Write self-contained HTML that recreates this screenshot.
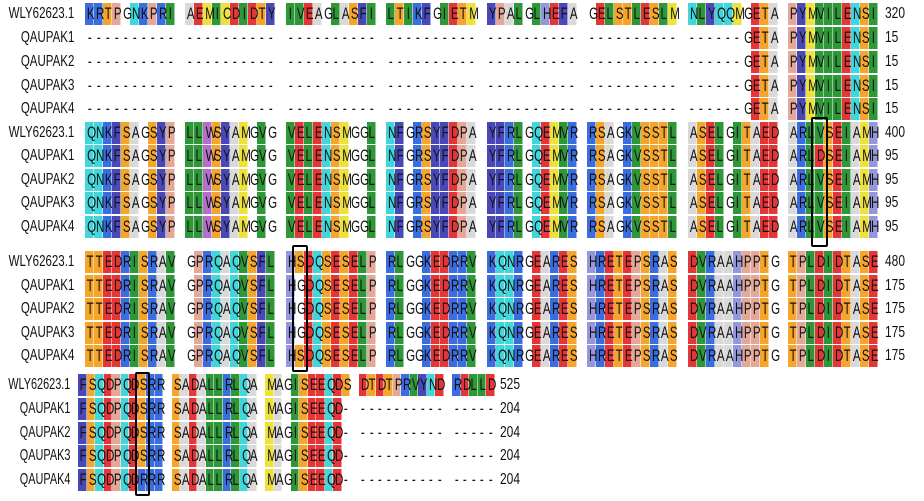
<!DOCTYPE html>
<html><head><meta charset="utf-8">
<style>
body{margin:0;width:924px;height:501px;background:#fff;position:relative;overflow:hidden;font-family:"Liberation Sans",Arial,sans-serif;}
.r{position:absolute;left:0;height:22px;width:924px;}
.r b{position:absolute;right:850px;top:0;line-height:22px;font-weight:normal;font-size:16px;white-space:nowrap;transform:scaleX(.72);transform-origin:right center;color:#111;}
.b4 b{right:854px;transform:scaleX(.68);}
.r i,.r u{position:absolute;top:0;font-style:normal;text-decoration:none;height:22px;white-space:nowrap;}
.r u{line-height:22px;font-size:16px;transform:scaleX(.75);transform-origin:left center;color:#111;}
.c{display:inline-block;height:22px;line-height:22px;text-align:center;vertical-align:top;overflow:visible;}
.c span{display:inline-block;font-size:17px;transform:scaleX(.68);color:#111;}
.box{position:absolute;border:2.5px solid #000;border-radius:2px;box-sizing:border-box;}
</style></head><body>

<div class="r" style="top:3px"><b>WLY62623.1</b><i>KRTPGNKPRI</i><i>AEMICDIDTY</i><i>IVEAGLASFI</i><i>LTIKFGIETM</i><i>YPALGLHEFA</i><i>GELSTLESLM</i><i>NLYQQMGETA</i><i>PYMVILENSI</i><u>320</u></div>
<div class="r" style="top:27px"><b>QAUPAK1</b><i>----------</i><i>----------</i><i>----------</i><i>----------</i><i>----------</i><i>----------</i><i>------GETA</i><i>PYMVILENSI</i><u>15</u></div>
<div class="r" style="top:51px"><b>QAUPAK2</b><i>----------</i><i>----------</i><i>----------</i><i>----------</i><i>----------</i><i>----------</i><i>------GETA</i><i>PYMVILENSI</i><u>15</u></div>
<div class="r" style="top:75px"><b>QAUPAK3</b><i>----------</i><i>----------</i><i>----------</i><i>----------</i><i>----------</i><i>----------</i><i>------GETA</i><i>PYMVILENSI</i><u>15</u></div>
<div class="r" style="top:98px"><b>QAUPAK4</b><i>----------</i><i>----------</i><i>----------</i><i>----------</i><i>----------</i><i>----------</i><i>------GETA</i><i>PYMVILENSI</i><u>15</u></div>

<div class="r" style="top:122px"><b>WLY62623.1</b><i>QNKFSAGSYP</i><i>LLWSYAMGVG</i><i>VELENSMGGL</i><i>NFGRSYFDPA</i><i>YFRLGQEMVR</i><i>RSAGKVSSTL</i><i>ASELGITAED</i><i>ARLVSEIAMH</i><u>400</u></div>
<div class="r" style="top:145px"><b>QAUPAK1</b><i>QNKFSAGSYP</i><i>LLWSYAMGVG</i><i>VELENSMGGL</i><i>NFGRSYFDPA</i><i>YFRLGQEMVR</i><i>RSAGKVSSTL</i><i>ASELGITAED</i><i>ARLDSEIAMH</i><u>95</u></div>
<div class="r" style="top:169px"><b>QAUPAK2</b><i>QNKFSAGSYP</i><i>LLWSYAMGVG</i><i>VELENSMGGL</i><i>NFGRSYFDPA</i><i>YFRLGQEMVR</i><i>RSAGKVSSTL</i><i>ASELGITAED</i><i>ARLVSEIAMH</i><u>95</u></div>
<div class="r" style="top:192px"><b>QAUPAK3</b><i>QNKFSAGSYP</i><i>LLWSYAMGVG</i><i>VELENSMGGL</i><i>NFGRSYFDPA</i><i>YFRLGQEMVR</i><i>RSAGKVSSTL</i><i>ASELGITAED</i><i>ARLVSEIAMH</i><u>95</u></div>
<div class="r" style="top:216px"><b>QAUPAK4</b><i>QNKFSAGSYP</i><i>LLWSYAMGVG</i><i>VELENSMGGL</i><i>NFGRSYFDPA</i><i>YFRLGQEMVR</i><i>RSAGKVSSTL</i><i>ASELGITAED</i><i>ARLVSEIAMH</i><u>95</u></div>

<div class="r" style="top:251px"><b>WLY62623.1</b><i>TTEDRISRAV</i><i>GPRQAQVSFL</i><i>HSDQSESELP</i><i>RLGGKEDRRV</i><i>KQNRGEARES</i><i>HRETEPSRAS</i><i>DVRAAHPPTG</i><i>TPLDIDTASE</i><u>480</u></div>
<div class="r" style="top:275px"><b>QAUPAK1</b><i>TTEDRISRAV</i><i>GPRQAQVSFL</i><i>HGDQSESELP</i><i>RLGGKEDRRV</i><i>KQNRGEARES</i><i>HRETEPSRAS</i><i>DVRAAHPPTG</i><i>TPLDIDTASE</i><u>175</u></div>
<div class="r" style="top:298px"><b>QAUPAK2</b><i>TTEDRISRAV</i><i>GPRQAQVSFL</i><i>HGDQSESELP</i><i>RLGGKEDRRV</i><i>KQNRGEARES</i><i>HRETEPSRAS</i><i>DVRAAHPPTG</i><i>TPLDIDTASE</i><u>175</u></div>
<div class="r" style="top:322px"><b>QAUPAK3</b><i>TTEDRISRAV</i><i>GPRQAQVSFL</i><i>HGDQSESELP</i><i>RLGGKEDRRV</i><i>KQNRGEARES</i><i>HRETEPSRAS</i><i>DVRAAHPPTG</i><i>TPLDIDTASE</i><u>175</u></div>
<div class="r" style="top:345px"><b>QAUPAK4</b><i>TTEDRISRAV</i><i>GPRQAQVSFL</i><i>HSDQSESELP</i><i>RLGGKEDRRV</i><i>KQNRGEARES</i><i>HRETEPSRAS</i><i>DVRAAHPPTG</i><i>TPLDIDTASE</i><u>175</u></div>

<div class="r b4" style="top:374px"><b>WLY62623.1</b><i>FSQDPQDSRR</i><i>SADALLRLQA</i><i>MAGISEEQDS</i><i>DTDTPRVYND</i><i>RDLLD</i><u>525</u></div>
<div class="r b4" style="top:398px"><b>QAUPAK1</b><i>FSQDPQDSRR</i><i>SADALLRLQA</i><i>MAGISEEQD-</i><i>----------</i><i>-----</i><u>204</u></div>
<div class="r b4" style="top:422px"><b>QAUPAK2</b><i>FSQDPQDSRR</i><i>SADALLRLQA</i><i>MAGISEEQD-</i><i>----------</i><i>-----</i><u>204</u></div>
<div class="r b4" style="top:445px"><b>QAUPAK3</b><i>FSQDPQDSRR</i><i>SADALLRLQA</i><i>MAGISEEQD-</i><i>----------</i><i>-----</i><u>204</u></div>
<div class="r b4" style="top:469px"><b>QAUPAK4</b><i>FSQDPQDRRR</i><i>SADALLRLQA</i><i>MAGISEEQD-</i><i>----------</i><i>-----</i><u>204</u></div>

<div class="box" style="left:811px;top:117px;width:17px;height:130px"></div>
<div class="box" style="left:292px;top:245px;width:16px;height:127px"></div>
<div class="box" style="left:135px;top:372px;width:15px;height:124px"></div>

<script>
var col={K:'#3a6de0',R:'#3a6de0',T:'#f5a52a',S:'#f5a52a',P:'#e3a898',N:'#3fd6dc',Q:'#3fd6dc',
A:'#d9d9d9',E:'#e73535',D:'#e73535',M:'#eee23a',C:'#eee23a',I:'#2e9838',V:'#2e9838',L:'#2e9838',
Y:'#4848b8',F:'#4848b8',H:'#9696dc',W:'#b46fc8',G:'transparent','-':'transparent'};
document.querySelectorAll('.r').forEach(function(r){
  var b4=r.classList.contains('b4');
  var x0=b4?78:85, per=b4?93.6:100.43, cw=b4?8.5:9, nx=b4?500:885;
  r.querySelectorAll('i').forEach(function(g,k){
    g.style.left=(x0+k*per)+'px';
    var t=g.textContent,h='';
    for(var j=0;j<t.length;j++){
      var c=t[j];
      h+='<span class="c" style="width:'+cw+'px;background:'+(col[c]||'transparent')+';box-shadow:inset -0.5px 0 0 #fff"><span>'+c+'</span></span>';
    }
    g.innerHTML=h;
  });
  r.querySelector('u').style.left=nx+'px';
});
</script>
</body></html>
